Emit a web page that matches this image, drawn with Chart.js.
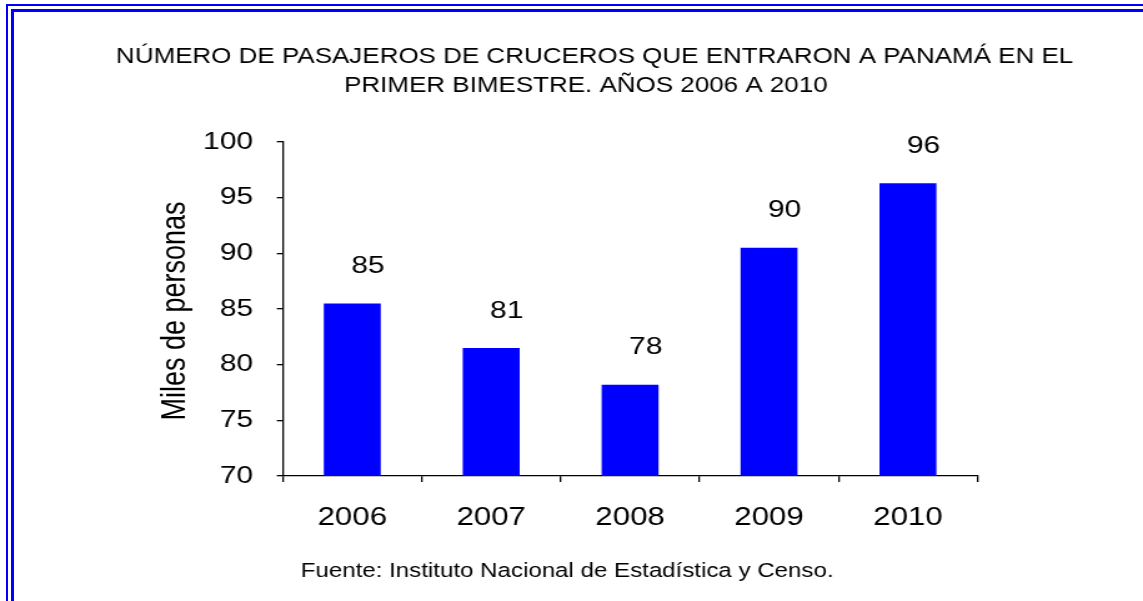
<!DOCTYPE html>
<html>
<head>
<meta charset="utf-8">
<script src="https://cdn.jsdelivr.net/npm/chart.js@4/dist/chart.umd.min.js"></script>
<style>
  html, body { margin: 0; padding: 0; background: #fff; }
  body { width: 1143px; height: 601px; position: relative; overflow: hidden; }
  #wrap { position: absolute; left: 0; top: 0; width: 915px; height: 601px; transform: scaleX(1.2492); transform-origin: 0 0; }
  .ln { position: absolute; background: #0000ff; }
</style>
</head>
<body>
<div class="ln" style="left:6px; right:0; top:4px; height:2px;"></div>
<div class="ln" style="left:11px; right:0; top:9px; height:3px;"></div>
<div class="ln" style="left:6px; width:2px; top:4px; bottom:0;"></div>
<div class="ln" style="left:11px; width:3px; top:9px; bottom:0;"></div>
<div id="wrap"><canvas id="c" width="915" height="601" style="width:915px;height:601px;"></canvas></div>
<script>
const categories = ["2006", "2007", "2008", "2009", "2010"];
const values = [85.5, 81.5, 78.2, 90.5, 96.3];
const valueLabels = ["85", "81", "78", "90", "96"];
const yTicks = [70, 75, 80, 85, 90, 95, 100];
const titleLines = ["NÚMERO DE PASAJEROS DE CRUCEROS QUE ENTRARON A PANAMÁ EN EL", "PRIMER BIMESTRE. AÑOS 2006 A 2010"];
const yAxisTitle = "Miles de personas";
const sourceNote = "Fuente: Instituto Nacional de Estadística y Censo.";

const FONT = "'Liberation Sans', Arial, sans-serif";

const textPlugin = {
  id: 'texts',
  afterDraw(chart) {
    const ctx = chart.ctx;
    ctx.save();
    ctx.fillStyle = '#000';
    ctx.textAlign = 'center';
    ctx.textBaseline = 'middle';
    // title (slightly condensed horizontally)
    ctx.save();
    ctx.scale(0.945, 1);
    ctx.font = "22px " + FONT;
    ctx.fillText(titleLines[0], 476 / 0.945, 57);
    ctx.fillText(titleLines[1], 469 / 0.945, 86);
    ctx.restore();
    ctx.font = "19.3px " + FONT;
    ctx.fillText(sourceNote, 454, 572);
    // axis title
    ctx.save();
    ctx.translate(140.8, 311);
    ctx.rotate(-Math.PI / 2);
    ctx.font = "27px " + FONT;
    ctx.fillText(yAxisTitle, 0, 0);
    ctx.restore();
    // data labels
    ctx.font = "24px " + FONT;
    const meta = chart.getDatasetMeta(0);
    meta.data.forEach((bar, i) => {
      ctx.fillText(valueLabels[i], bar.x + 12.5, bar.y - 37);
    });
    ctx.restore();
  }
};

new Chart(document.getElementById('c'), {
  type: 'bar',
  data: {
    labels: categories,
    datasets: [{
      data: values,
      backgroundColor: '#0000ff',
      borderWidth: 0,
      categoryPercentage: 1.0,
      barPercentage: 0.41
    }]
  },
  options: {
    responsive: false,
    animation: false,
    devicePixelRatio: 1,
    layout: { padding: { top: 142, right: 132.6, left: 0, bottom: 0 } },
    plugins: { legend: { display: false }, tooltip: { enabled: false }, title: { display: false } },
    scales: {
      x: {
        grid: { display: true, drawOnChartArea: false, drawTicks: true, tickLength: 6, color: '#000', offset: true, lineWidth: 1.3 },
        border: { display: true, color: '#000', width: 1.3 },
        ticks: { color: '#000', font: { family: FONT, size: 25 }, padding: 21, maxRotation: 0 },
        afterFit(scale) { scale.height = 125; }
      },
      y: {
        min: 70, max: 100,
        afterBuildTicks(scale) { scale.ticks = yTicks.map(v => ({ value: v })); },
        grid: { display: true, drawOnChartArea: false, drawTicks: true, tickLength: 4.8, color: '#000', lineWidth: 1.3 },
        border: { display: true, color: '#000', width: 1.3 },
        ticks: { color: '#000', font: { family: FONT, size: 24 }, padding: 19 },
        afterFit(scale) { scale.width = 226.4; }
      }
    }
  },
  plugins: [textPlugin]
});
</script>
</body>
</html>
